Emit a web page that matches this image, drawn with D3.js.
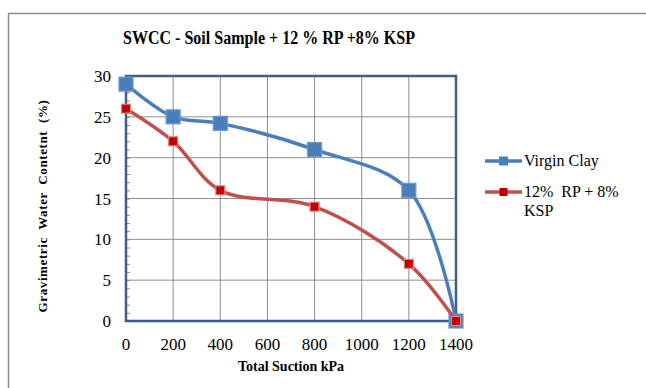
<!DOCTYPE html>
<html>
<head>
<meta charset="utf-8">
<script src="https://cdn.jsdelivr.net/npm/d3@7"></script>
<style>
  body { margin: 0; background: #fff; }
  svg text { white-space: pre; }
</style>
</head>
<body>
<svg id="canvas" width="646" height="388" font-family="'Liberation Serif', 'Times New Roman', serif"></svg>
<script>
let suction = [0, 200, 400, 800, 1200, 1400];
let virginClay = [29, 25, 24.2, 21, 16, 0];
let rpKsp = [26, 22, 16, 14, 7, 0];
let xTicks = [0, 200, 400, 600, 800, 1000, 1200, 1400];
let yTicks = [0, 5, 10, 15, 20, 25, 30];

let svg = d3.select("#canvas");

// outer chart frame
svg.append("rect")
  .attr("x", 8.5).attr("y", 13.5)
  .attr("width", 660).attr("height", 400)
  .attr("fill", "none").attr("stroke", "#8c8c8c").attr("stroke-width", 1.5);

let plotLeft = 126, plotRight = 456, plotTop = 76, plotBottom = 321;

let x = d3.scaleLinear().domain([0, 1400]).range([plotLeft, plotRight]);
let y = d3.scaleLinear().domain([0, 30]).range([plotBottom, plotTop]);

// gridlines
svg.append("g")
  .selectAll("line")
  .data(xTicks.slice(1, -1))
  .enter()
  .append("line")
  .attr("x1", (d) => x(d)).attr("x2", (d) => x(d))
  .attr("y1", plotTop).attr("y2", plotBottom)
  .attr("stroke", "#8e8e8e").attr("stroke-width", 1);

svg.append("g")
  .selectAll("line")
  .data(yTicks.slice(1, -1))
  .enter()
  .append("line")
  .attr("x1", plotLeft).attr("x2", plotRight)
  .attr("y1", (d) => y(d)).attr("y2", (d) => y(d))
  .attr("stroke", "#8e8e8e").attr("stroke-width", 1);

// y axis minor ticks inside
let yAxis = svg.append("g").attr("transform", "translate(" + plotLeft + ",0)");
yAxis.call(d3.axisRight(y).ticks(30).tickSize(4).tickFormat(""))
  .call((g) => g.select(".domain").remove())
  .selectAll("line").attr("stroke", "#8e8e8e");

svg.append("g")
  .selectAll("text")
  .data(yTicks)
  .enter()
  .append("text")
  .attr("x", 111).attr("y", (d) => y(d) + 6)
  .attr("text-anchor", "end")
  .attr("font-size", 17)
  .text((d) => d);

svg.append("g")
  .selectAll("text")
  .data(xTicks)
  .enter()
  .append("text")
  .attr("x", (d) => x(d)).attr("y", 350)
  .attr("text-anchor", "middle")
  .attr("font-size", 17)
  .text((d) => d);

// plot box
svg.append("rect")
  .attr("x", plotLeft).attr("y", plotTop)
  .attr("width", plotRight - plotLeft).attr("height", plotBottom - plotTop)
  .attr("fill", "none").attr("stroke", "#3b5f8a").attr("stroke-width", 2.5);

let line = d3.line()
  .x((d) => x(d[0]))
  .y((d) => y(d[1]))
  .curve(d3.curveCatmullRom.alpha(0.5));

let seriesList = [
  { name: "Virgin Clay", values: virginClay, color: "#4a7ebb", fill: "#4a7ebb", edge: "#6d96cc", size: 14 },
  { name: "12%  RP + 8%", values: rpKsp, color: "#c0504d", fill: "#c00000", edge: "#e08583", size: 9 }
];

seriesList.forEach((s) => {
  let pts = suction.map((v, i) => [v, s.values[i]]);
  svg.append("path")
    .datum(pts)
    .attr("d", line)
    .attr("fill", "none")
    .attr("stroke", s.color)
    .attr("stroke-width", 3.5);
  svg.append("g")
    .selectAll("rect")
    .data(pts)
    .enter()
    .append("rect")
    .attr("x", (d) => x(d[0]) - s.size / 2)
    .attr("y", (d) => y(d[1]) - s.size / 2)
    .attr("width", s.size).attr("height", s.size)
    .attr("fill", s.fill)
    .attr("stroke", s.edge).attr("stroke-width", 1.2);
});

// title (squeezed a bit like the original)
svg.append("text")
  .attr("x", 123).attr("y", 44)
  .attr("font-size", 18).attr("font-weight", "bold")
  .attr("textLength", 292).attr("lengthAdjust", "spacingAndGlyphs")
  .text("SWCC - Soil Sample + 12 % RP +8% KSP");

svg.append("text")
  .attr("x", 291).attr("y", 371)
  .attr("text-anchor", "middle")
  .attr("font-size", 14).attr("font-weight", "bold")
  .text("Total Suction kPa");

svg.append("text")
  .attr("transform", "translate(47,206) rotate(-90)")
  .attr("text-anchor", "middle")
  .attr("font-size", 13).attr("font-weight", "bold")
  .attr("letter-spacing", 0.6)
  .text("Gravimetric  Water  Contetnt  (%)");

// legend
let legendRows = [
  { s: seriesList[0], y: 161, lines: ["Virgin Clay"] },
  { s: seriesList[1], y: 192, lines: ["12%  RP + 8%", "KSP"] }
];
legendRows.forEach((r) => {
  svg.append("line")
    .attr("x1", 485).attr("x2", 522)
    .attr("y1", r.y).attr("y2", r.y)
    .attr("stroke", r.s.color).attr("stroke-width", 3.5);
  let sz = r.s === seriesList[0] ? 9 : 8;
  svg.append("rect")
    .attr("x", 503.5 - sz / 2).attr("y", r.y - sz / 2)
    .attr("width", sz).attr("height", sz)
    .attr("fill", r.s.fill);
  r.lines.forEach((t, i) => {
    svg.append("text")
      .attr("x", 524).attr("y", r.y + 5 + i * 19)
      .attr("font-size", 16)
      .text(t);
  });
});
</script>
</body>
</html>
